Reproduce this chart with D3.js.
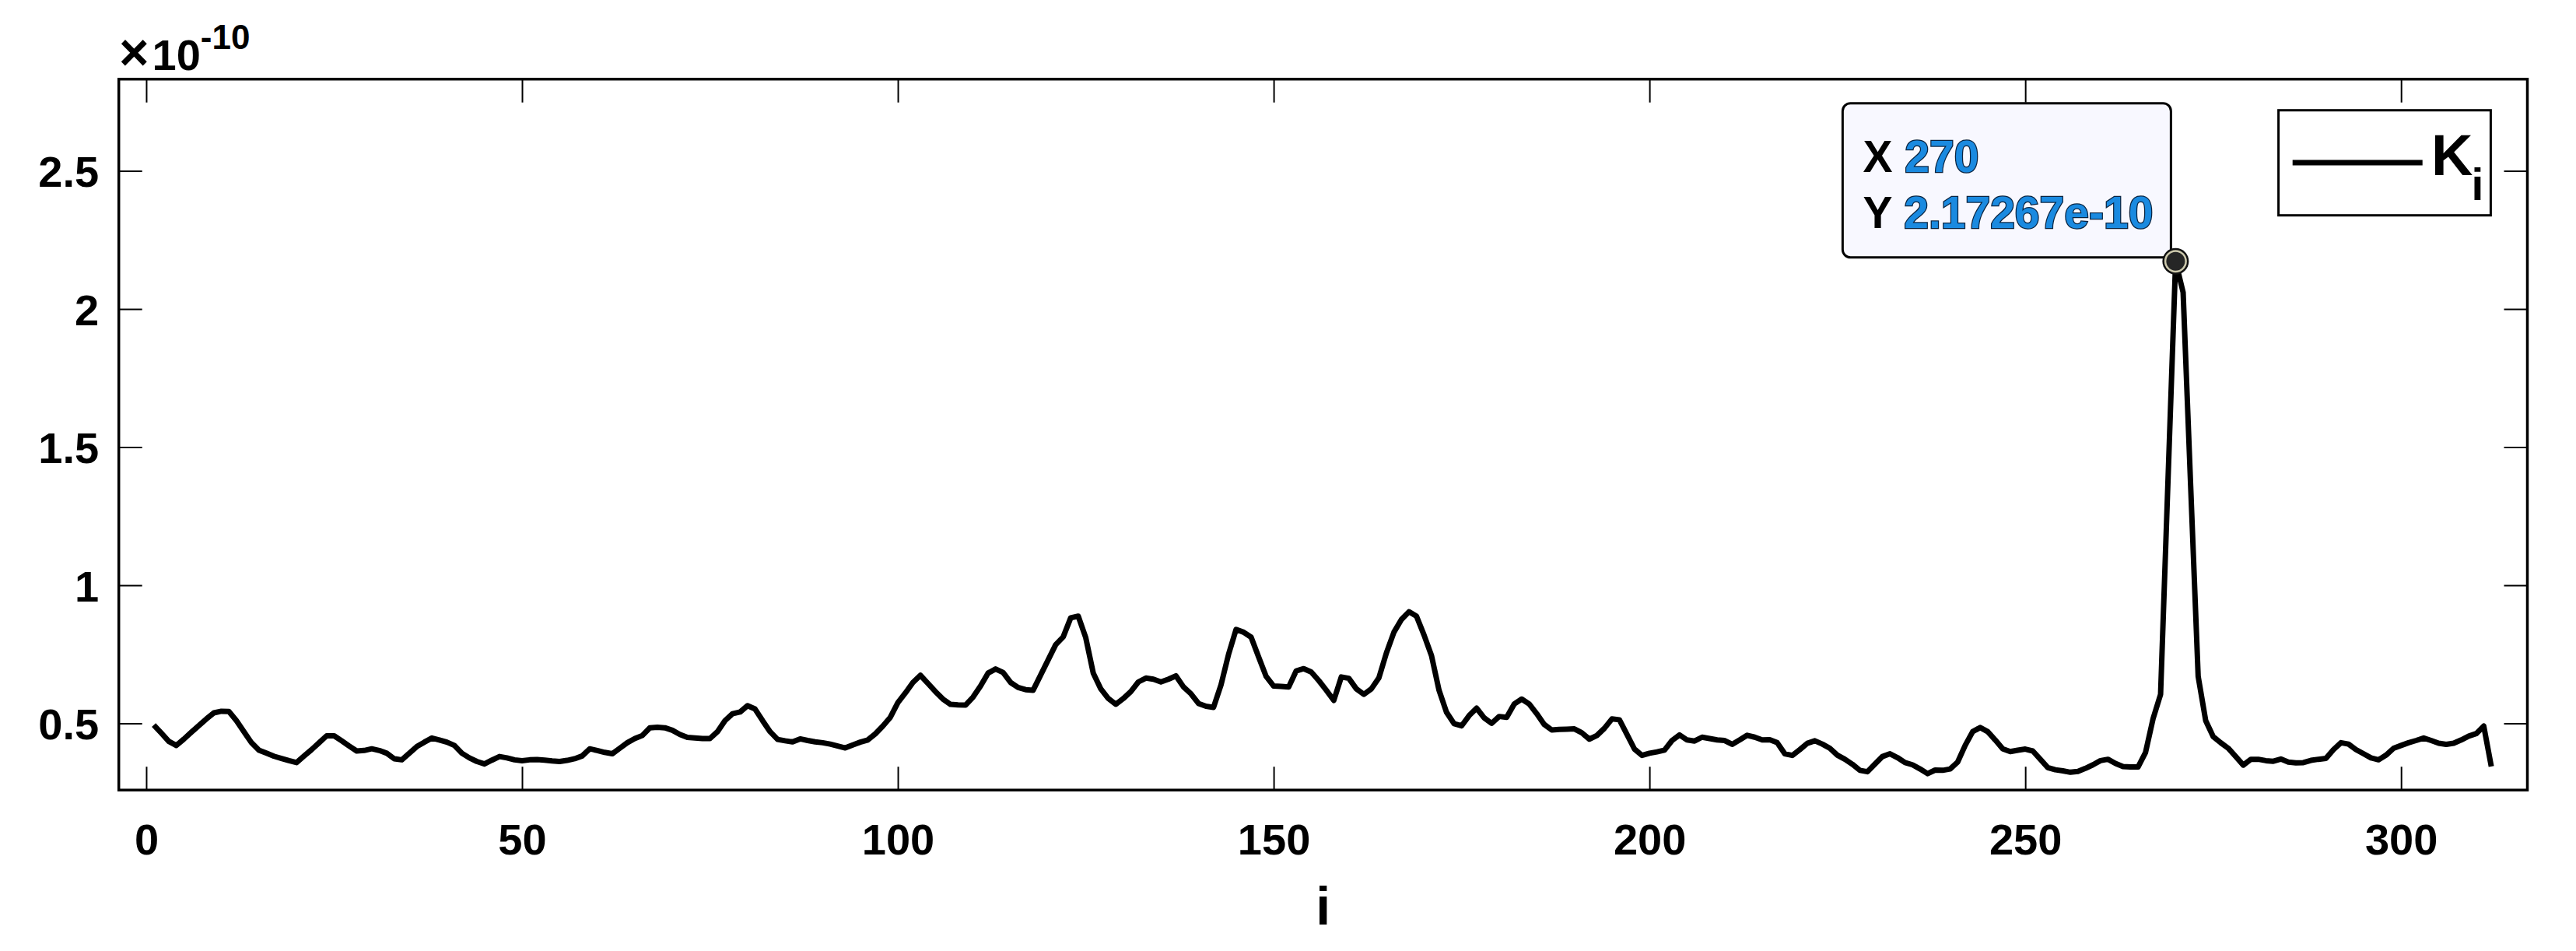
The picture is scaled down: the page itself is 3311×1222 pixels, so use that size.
<!DOCTYPE html>
<html>
  <head>
    <title>K_i</title>
    <script src="https://d3js.org/d3.v7.min.js" charset="utf-8"></script>
    <style>
 body { margin: 0; background: white; }
 text { font-family: "Liberation Sans", Arial, Helvetica, sans-serif; font-weight: bold; }
 </style>
  </head>
  <body>
<script>
// K_i values, in units of 1e-10, for i = 1..312
var kVals = [
  0.494, 0.465, 0.435, 0.420, 0.443, 0.468, 0.492, 0.516, 0.538, 0.544,
  0.543, 0.510, 0.470, 0.430, 0.403, 0.392, 0.381, 0.373, 0.365, 0.358,
  0.382, 0.405, 0.430, 0.455, 0.455, 0.437, 0.418, 0.400, 0.402, 0.408,
  0.402, 0.392, 0.372, 0.368, 0.392, 0.416, 0.432, 0.447, 0.440, 0.432,
  0.420, 0.392, 0.375, 0.362, 0.353, 0.367, 0.380, 0.375, 0.368, 0.365,
  0.368, 0.369, 0.367, 0.364, 0.362, 0.366, 0.372, 0.382, 0.408, 0.402,
  0.395, 0.390, 0.410, 0.430, 0.445, 0.456, 0.484, 0.486, 0.484, 0.475,
  0.460, 0.449, 0.447, 0.445, 0.445, 0.470, 0.510, 0.535, 0.541, 0.564,
  0.552, 0.510, 0.470, 0.442, 0.437, 0.433, 0.444, 0.438, 0.433, 0.430,
  0.425, 0.418, 0.411, 0.422, 0.432, 0.440, 0.462, 0.490, 0.522, 0.575,
  0.610, 0.648, 0.674, 0.645, 0.615, 0.588, 0.569, 0.567, 0.566, 0.595,
  0.635, 0.682, 0.697, 0.684, 0.648, 0.630, 0.622, 0.620, 0.675, 0.730,
  0.785, 0.813, 0.882, 0.888, 0.810, 0.682, 0.625, 0.590, 0.569, 0.590,
  0.615, 0.650, 0.664, 0.660, 0.650, 0.660, 0.672, 0.632, 0.607, 0.572,
  0.562, 0.558, 0.640, 0.750, 0.840, 0.830, 0.812, 0.740, 0.670, 0.635,
  0.634, 0.632, 0.690, 0.698, 0.686, 0.655, 0.620, 0.583, 0.668, 0.663,
  0.625, 0.605, 0.625, 0.665, 0.755, 0.830, 0.876, 0.904, 0.888, 0.820,
  0.745, 0.620, 0.540, 0.499, 0.491, 0.528, 0.555, 0.520, 0.500, 0.525,
  0.522, 0.570, 0.588, 0.570, 0.535, 0.496, 0.476, 0.478, 0.479, 0.480,
  0.466, 0.443, 0.456, 0.482, 0.516, 0.513, 0.460, 0.407, 0.384, 0.392,
  0.397, 0.403, 0.438, 0.458, 0.440, 0.436, 0.450, 0.445, 0.440, 0.438,
  0.424, 0.440, 0.457, 0.450, 0.440, 0.441, 0.430, 0.390, 0.384, 0.405,
  0.428, 0.437, 0.425, 0.410, 0.385, 0.370, 0.352, 0.330, 0.325, 0.353,
  0.380, 0.390, 0.376, 0.358, 0.350, 0.335, 0.318, 0.331, 0.330, 0.335,
  0.360, 0.420, 0.470, 0.485, 0.470, 0.440, 0.408, 0.398, 0.403, 0.407,
  0.400, 0.370, 0.340, 0.332, 0.328, 0.323, 0.326, 0.337, 0.350, 0.365,
  0.370, 0.355, 0.344, 0.342, 0.342, 0.395, 0.517, 0.605, 1.390, 2.17267,
  2.060, 1.360, 0.670, 0.510, 0.452, 0.430, 0.410, 0.380, 0.349, 0.370,
  0.370, 0.365, 0.363, 0.371, 0.360, 0.357, 0.358, 0.366, 0.370, 0.373,
  0.405, 0.430, 0.425, 0.405, 0.390, 0.375, 0.368, 0.385, 0.410, 0.420,
  0.430, 0.438, 0.447, 0.438, 0.428, 0.424, 0.428, 0.440, 0.454, 0.463,
  0.490, 0.344
];
var xTicks = [0, 50, 100, 150, 200, 250, 300];
var yTicks = [0.5, 1, 1.5, 2, 2.5];
var exponent = "-10";
var xLabel = "i";
var legendName = "K";
var legendSub = "i";
var tipIndex = 270;

var width = 3311;
var height = 1222;
var padL = 152.7, padR = 3248.5, padT = 101.7, padB = 1015.2;

var svg = d3.select("body")
  .append("svg")
  .attr("width", width)
  .attr("height", height);

svg.append("rect").attr("width", width).attr("height", height).attr("fill", "white");

var xs = d3.scaleLinear().domain([-3.65, 316.8]).range([padL, padR]);
var ys = d3.scaleLinear().domain([0.2586, 2.832]).range([padB, padT]);

// ticks point inward on all four sides
var gx = svg.append("g")
  .attr("transform", "translate(0," + padB + ")")
  .call(d3.axisBottom(xs).tickValues(xTicks).tickSize(-30).tickFormat(d3.format("d")));
var gy = svg.append("g")
  .attr("transform", "translate(" + padL + ",0)")
  .call(d3.axisLeft(ys).tickValues(yTicks).tickSize(-30).tickFormat(function(d){ return String(d); }));
var gxt = svg.append("g")
  .attr("transform", "translate(0," + padT + ")")
  .call(d3.axisTop(xs).tickValues(xTicks).tickSize(-30).tickFormat(""));
var gyr = svg.append("g")
  .attr("transform", "translate(" + padR + ",0)")
  .call(d3.axisRight(ys).tickValues(yTicks).tickSize(-30).tickFormat(""));

[gx, gy, gxt, gyr].forEach(function(g){
  g.select(".domain").remove();
  g.selectAll("line").attr("stroke", "#000").attr("stroke-width", 2);
});
gx.selectAll("text")
  .attr("y", 83).attr("dy", null)
  .attr("fill", "#000")
  .style("font-size", "56px");
gy.selectAll("text")
  .attr("x", -25.5).attr("dy", "0.36em")
  .attr("fill", "#000")
  .style("font-size", "56px");

// axes box
svg.append("rect")
  .attr("x", padL).attr("y", padT)
  .attr("width", padR - padL).attr("height", padB - padT)
  .attr("fill", "none")
  .attr("stroke", "#000")
  .attr("stroke-width", 3.5);

// exponent label
var ex = svg.append("text").attr("x", 153).attr("y", 90).attr("fill", "#000");
ex.append("tspan").style("font-size", "66px").text("\u00d7");
ex.append("tspan").attr("dx", 4).style("font-size", "56px").text("10");
ex.append("tspan").attr("dy", -27).style("font-size", "44px").text(exponent);

// x label
svg.append("text")
  .attr("x", (padL + padR) / 2).attr("y", 1188)
  .attr("text-anchor", "middle")
  .style("font-size", "68px")
  .text(xLabel);

// data line
var line = d3.line()
  .x(function(d, k){ return xs(k + 1); })
  .y(function(d){ return ys(d); });

svg.append("path")
  .datum(kVals)
  .attr("fill", "none")
  .attr("stroke", "#000")
  .attr("stroke-width", 7)
  .attr("stroke-linejoin", "round")
  .attr("d", line);

// data tip
var tipV = kVals[tipIndex - 1];
var px = xs(tipIndex), py = ys(tipV);
var boxW = 422, boxH = 198;
svg.append("rect")
  .attr("x", px - 6 - boxW).attr("y", py - 5 - boxH)
  .attr("width", boxW).attr("height", boxH)
  .attr("rx", 10)
  .attr("fill", "#f8f8ff")
  .attr("stroke", "#000")
  .attr("stroke-width", 3);

var tipRows = [["X", String(tipIndex)], ["Y", tipV + "e" + exponent]];
svg.selectAll(".tiprow")
  .data(tipRows)
  .enter()
  .append("text")
  .attr("class", "tiprow")
  .attr("x", px - 6 - boxW + 26)
  .attr("y", function(d, k){ return py - 5 - boxH + 88 + k * 72; })
  .style("font-size", "57px")
  .each(function(d){
    var t = d3.select(this);
    t.append("tspan").attr("fill", "#000").text(d[0] + " ");
    t.append("tspan")
      .attr("fill", "#1a8ae0")
      .attr("stroke", "#0b2440")
      .attr("stroke-width", 2.5)
      .attr("paint-order", "stroke")
      .text(d[1]);
  });

svg.append("circle").attr("cx", px).attr("cy", py).attr("r", 17).attr("fill", "#111");
svg.append("circle").attr("cx", px).attr("cy", py).attr("r", 14.5).attr("fill", "#cdc9ad");
svg.append("circle").attr("cx", px).attr("cy", py).attr("r", 12).attr("fill", "#262626");

// legend
var lg = svg.append("g");
lg.append("rect")
  .attr("x", 2928.6).attr("y", 141.7)
  .attr("width", 272.8).attr("height", 135)
  .attr("fill", "white")
  .attr("stroke", "#000")
  .attr("stroke-width", 3);
lg.append("line")
  .attr("x1", 2946.7).attr("x2", 3113.7)
  .attr("y1", 209).attr("y2", 209)
  .attr("stroke", "#000")
  .attr("stroke-width", 7);
var lt = lg.append("text").attr("x", 3125).attr("y", 225).attr("fill", "#000");
lt.append("tspan").style("font-size", "74px").text(legendName);
lt.append("tspan").attr("dy", 32).attr("dx", -2).style("font-size", "57px").text(legendSub);
</script>
  </body>
</html>
